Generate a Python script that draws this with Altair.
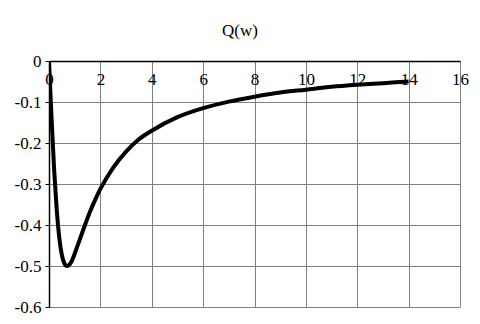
import altair as alt
import pandas as pd

w_vals = [0, 0.05, 0.1, 0.2, 0.3, 0.4, 0.5, 0.6, 0.7, 0.8, 0.9, 1.0, 1.2, 1.4, 1.6,
          1.8, 2.0, 2.5, 3.0, 3.5, 4.0, 5.0, 6.0, 7.0, 8.0, 9.0, 10.0, 11.0, 12.0, 13.0, 14.0]
q_vals = [0, -0.071, -0.14, -0.265, -0.362, -0.431, -0.473, -0.494, -0.5, -0.496, -0.486,
          -0.47, -0.435, -0.4, -0.367, -0.338, -0.312, -0.26, -0.221, -0.191, -0.17,
          -0.137, -0.115, -0.099, -0.087, -0.077, -0.07, -0.063, -0.058, -0.054, -0.05]
title_text = ["Q(w)"]

df = pd.DataFrame({"w": w_vals, "q": q_vals})
tdf = pd.DataFrame({"t": title_text})

FONT = "Liberation Serif, Times New Roman, serif"

line = (
    alt.Chart(df)
    .mark_line(color="black", strokeWidth=4, interpolate="monotone", clip=True)
    .encode(
        x=alt.X(
            "w:Q",
            scale=alt.Scale(domain=[0, 16], nice=False),
            axis=alt.Axis(
                orient="bottom",
                offset=-246,
                values=list(range(0, 17, 2)),
                title=None,
                labelFont=FONT,
                labelFontSize=17,
                labelColor="black",
                labelPadding=10,
                ticks=False,
                domainColor="black",
                domainWidth=1.5,
                gridColor="#808080",
                gridWidth=1,
                gridOpacity=1,
                labelFlush=False,
            ),
        ),
        y=alt.Y(
            "q:Q",
            scale=alt.Scale(domain=[-0.6, 0], nice=False),
            axis=alt.Axis(
                values=[0, -0.1, -0.2, -0.3, -0.4, -0.5, -0.6],
                title=None,
                labelExpr="datum.value == 0 ? '0' : '-' + format(-datum.value, '.1f')",
                labelFont=FONT,
                labelFontSize=17,
                labelColor="black",
                labelPadding=4,
                tickSize=4,
                tickColor="black",
                domainColor="black",
                domainWidth=1.5,
                gridColor="#808080",
                gridWidth=1,
                gridOpacity=1,
                labelFlush=False,
            ),
        ),
    )
)

title = (
    alt.Chart(tdf)
    .mark_text(font=FONT, fontSize=17, color="black", align="center", baseline="alphabetic")
    .encode(text="t:N", x=alt.value(191), y=alt.value(-25))
)

chart = (
    alt.layer(line, title)
    .properties(
        width=411,
        height=246,
        autosize=alt.AutoSizeParams(type="none"),
        padding={"left": 49, "top": 61, "right": 20, "bottom": 17},
    )
    .configure_view(stroke=None)
)

chart.save("out.html", embed_options={"renderer": "svg", "actions": False})
